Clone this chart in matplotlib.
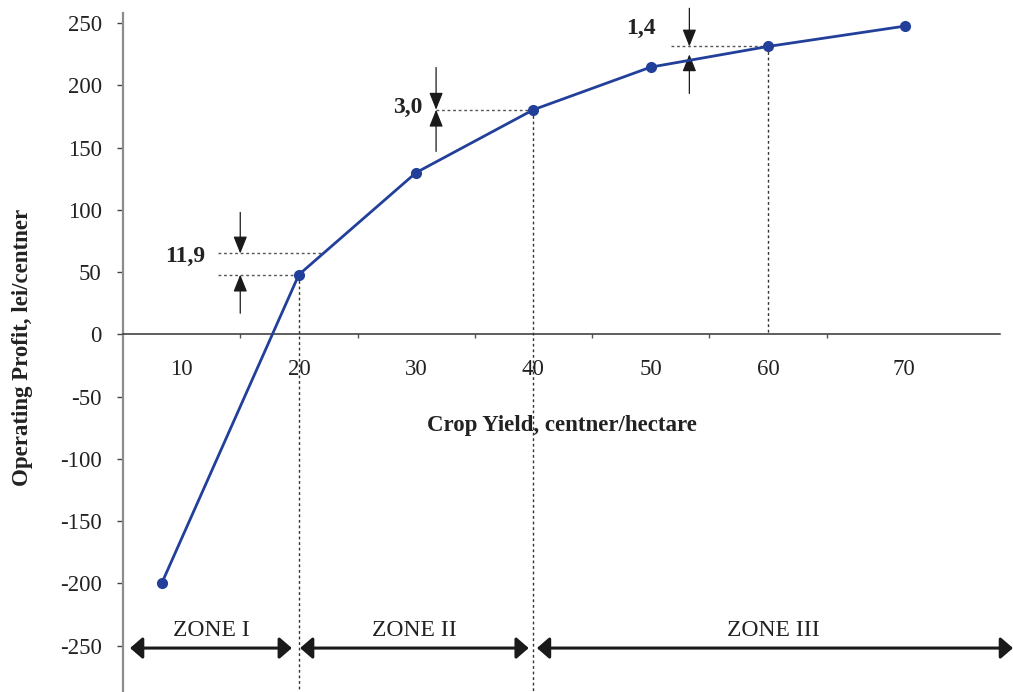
import matplotlib
matplotlib.use("Agg")
import matplotlib.pyplot as plt

# ---- data ----
yield_x = [8.3, 20, 30, 40, 50, 60, 71.7]          # crop yield, centner/hectare
profit_y = [-200, 48, 130, 180.5, 214.7, 231.3, 247.7]  # operating profit, lei/centner
x_tick_labels = ["10", "20", "30", "40", "50", "60", "70"]
x_label_pos = [10, 20, 30, 40, 50, 60, 71.6]
x_minor_marks = [15, 25, 35, 45, 55, 65]
y_ticks = [-250, -200, -150, -100, -50, 0, 50, 100, 150, 200, 250]
zone_names = ["ZONE I", "ZONE II", "ZONE III"]
zone_bounds = [(5.6, 19.4), (20.1, 39.6), (40.3, 80.9)]
deltas = ["11,9", "3,0", "1,4"]

SERIF = ["Liberation Serif", "DejaVu Serif"]
plt.rcParams["font.family"] = SERIF

fig = plt.figure(figsize=(10.13, 6.92), dpi=100)
ax = fig.add_axes([123/1013, 0, 890/1013, 679/692])
ax.set_xlim(5, 80.9)
ax.set_ylim(-287.3, 258.2)

line_color = "#22409a"
ax.plot(yield_x, profit_y, color=line_color, lw=2, marker="o", ms=7,
        markerfacecolor=line_color, markeredgecolor=line_color, zorder=5, clip_on=False)

# spines
for s in ["top", "right"]:
    ax.spines[s].set_visible(False)
ax.spines["left"].set_color("#8c8c8c")
ax.spines["left"].set_linewidth(1.6)
ax.spines["bottom"].set_position(("data", 0))
ax.spines["bottom"].set_bounds(5, 79.8)
ax.spines["bottom"].set_color("#333333")
ax.spines["bottom"].set_linewidth(1.1)

ax.set_yticks(y_ticks)
ax.set_yticklabels([str(v) for v in y_ticks])
ax.tick_params(axis="y", direction="out", length=4.3, width=1, color="#444444",
               pad=11, labelsize=16.5, labelcolor="#222222")

ax.set_xticks(x_minor_marks)
ax.set_xticklabels([""] * len(x_minor_marks))
ax.tick_params(axis="x", which="major", direction="out", length=3, width=1, color="#555555")
ax.set_xticks(x_label_pos, minor=True)
ax.set_xticklabels(x_tick_labels, minor=True)
ax.tick_params(axis="x", which="minor", length=0, pad=18, labelsize=16.5, labelcolor="#222222")

# axis labels
ax.set_ylabel("Operating Profit, lei/centner", fontsize=16.5, fontweight="bold", color="#222222")
ax.yaxis.set_label_coords(-0.101, 0.508)
ax.set_xlabel("Crop Yield, centner/hectare", fontsize=16.5, fontweight="bold", color="#222222", va="center")
ax.xaxis.set_label_coords(0.493, 0.392)

# vertical dotted guide lines
dot = dict(color="#333333", lw=1, ls=(0, (2, 2)))
ax.plot([yield_x[1], yield_x[1]], [profit_y[1], -287.3], **dot, zorder=2)
ax.plot([yield_x[3], yield_x[3]], [profit_y[3], -287.3], **dot, zorder=2)
ax.plot([yield_x[5], yield_x[5]], [profit_y[5], 0], **dot, zorder=2)

# horizontal dotted lines for deltas
hdot = dict(color="#555555", lw=1, ls=(0, (2, 2)))
ax.plot([13.1, 22], [65, 65], **hdot)
ax.plot([13.1, yield_x[1]], [profit_y[1], profit_y[1]], **hdot)
ax.plot([31.7, yield_x[3]], [profit_y[3], profit_y[3]], **hdot)
ax.plot([51.7, yield_x[5]], [profit_y[5], profit_y[5]], **hdot)

small_arrow = dict(arrowstyle="-|>,head_length=1.05,head_width=0.42", color="#1a1a1a",
                   lw=0.9, shrinkA=0, shrinkB=0, mutation_scale=10)

def vert_arrow(x, y_tail, y_head):
    ax.annotate("", xy=(x, y_head), xytext=(x, y_tail), arrowprops=small_arrow,
                annotation_clip=False)

vert_arrow(15, 98, 65)
vert_arrow(15, 17, profit_y[1])
vert_arrow(31.7, 214.4, profit_y[3])
vert_arrow(31.7, 147, profit_y[3])
vert_arrow(53.3, 262, profit_y[5])
vert_arrow(53.3, 193.6, 225)

txt = dict(fontsize=17, fontweight="bold", color="#222222", ha="center", va="center")
ax.text(10.3, 62.5, deltas[0], **txt)
ax.text(29.3, 182, deltas[1], **txt)
ax.text(49.2, 246, deltas[2], **txt, clip_on=False)

# zones
zone_arrow = dict(arrowstyle="<|-|>,head_length=0.75,head_width=0.65", color="#1a1a1a",
                  lw=2.2, shrinkA=0, shrinkB=0, mutation_scale=10)
for name, (x0, x1) in zip(zone_names, zone_bounds):
    ax.annotate("", xy=(x1, -252), xytext=(x0, -252), arrowprops=zone_arrow,
                annotation_clip=False)
    ax.text((x0 + x1) / 2 if name != "ZONE III" else 60.5, -237.5, name, fontsize=17,
            color="#222222", ha="center", va="center")

fig.savefig("out.png", dpi=100)
